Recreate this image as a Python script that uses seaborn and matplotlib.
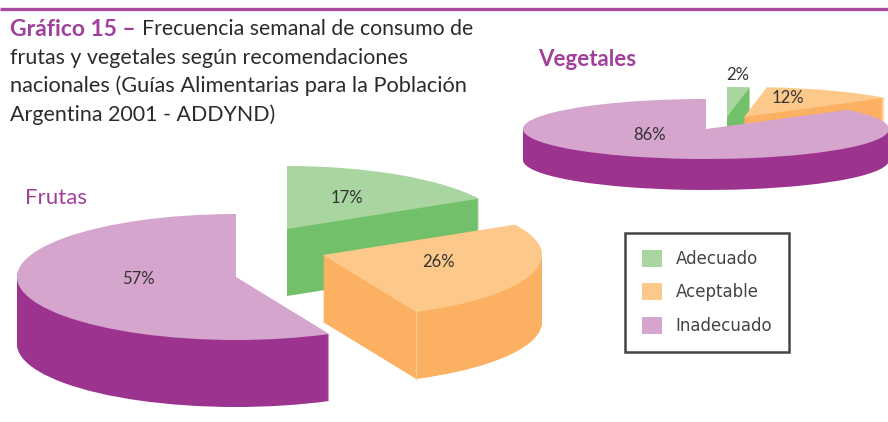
import numpy as np
import matplotlib
matplotlib.use('Agg')
import matplotlib.pyplot as plt
from matplotlib.patches import Patch
import seaborn as sns

# Data
categories = ['Adecuado', 'Aceptable', 'Inadecuado']
frutas = [17, 26, 57]
vegetales = [2, 12, 86]

# Colours: top face and side wall of each slice
top_colors = ['#A9D5A0', '#FCC98B', '#D5A5CD']
wall_colors = ['#72C069', '#FCB062', '#9C338F']
purple = '#A0409A'
W, H = 888, 422

sns.set_theme(style='white')
plt.rcParams['font.family'] = ['Lato', 'DejaVu Sans']

fig = plt.figure(figsize=(W / 100, H / 100), dpi=100)
fig.patch.set_facecolor('white')

# Overlay in pixel coordinates for the text and rule
ax_txt = fig.add_axes([0, 0, 1, 1], zorder=5, facecolor='none')
ax_txt.set_xlim(0, W)
ax_txt.set_ylim(H, 0)
ax_txt.axis('off')


def draw_pie(values, centers, rx, ry, wall):
    # squashed axes turn the round pie into an ellipse
    ratio = ry / rx
    ax = fig.add_axes([0, 0, 1, 1], facecolor='none')
    start = 90.0
    corners = []
    for v, (cx, cy), top, side in zip(values, centers, top_colors, wall_colors):
        vals = [v, 100 - v]
        for h in list(range(wall, 0, -1)) + [0]:
            col = side if h > 0 else top
            ax.pie(vals, colors=[col, 'none'], startangle=start, counterclock=False,
                   radius=rx, center=(cx, (H - cy - h) / ratio),
                   wedgeprops={'linewidth': 0})
        end = np.radians(start - v * 3.6)
        corners.append((cx + rx * np.cos(end), cy - ry * np.sin(end)))
        start -= v * 3.6
    ax.set_aspect('auto')
    ax.set_xlim(0, W)
    ax.set_ylim(0, H / ratio)
    ax.axis('off')
    return ax, corners


ax_f, corners_f = draw_pie(frutas, [(287, 229), (323, 255), (236, 277)], 219, 63, 67)
ax_v, corners_v = draw_pie(vegetales, [(727, 117), (744, 117), (706, 129)], 183, 30, 31)

# thin light edge on the orange wall corner
x_c, y_c = corners_f[1]
ax_txt.plot([x_c, x_c], [y_c, y_c + 67], color='#FCC98B', lw=1)

# Rule and heading
ax_txt.plot([0, W], [9, 9], color='#A84A9E', lw=2.4, solid_capstyle='butt')
ax_txt.text(10, 29, 'Gráfico 15 –', color=purple, fontsize=16.5, fontweight='bold', va='center')
ax_txt.text(142, 29, 'Frecuencia semanal de consumo de', color='#2b2b2b', fontsize=15.3, va='center')
ax_txt.text(10, 58, 'frutas y vegetales según recomendaciones', color='#2b2b2b', fontsize=15.4, va='center')
ax_txt.text(10, 86, 'nacionales (Guías Alimentarias para la Población', color='#2b2b2b', fontsize=15.7, va='center')
ax_txt.text(10, 115, 'Argentina 2001 - ADDYND)', color='#2b2b2b', fontsize=15.4, va='center')

ax_txt.text(25, 198, 'Frutas', color=purple, fontsize=16, va='center')
ax_txt.text(538, 59, 'Vegetales', color=purple, fontsize=16, fontweight='bold', va='center')

# Percent labels
pos_f = [(347, 198), (438, 262), (138, 279)]
pos_v = [(738, 75), (788, 98), (650, 135)]
for vals, pos in [(frutas, pos_f), (vegetales, pos_v)]:
    for v, (x, y) in zip(vals, pos):
        ax_txt.text(x, y, f'{v}%', color='#333333', fontsize=12, ha='center', va='center')

# Legend
handles = [Patch(facecolor=c, edgecolor='none', label=n) for c, n in zip(top_colors, categories)]
leg = ax_txt.legend(handles=handles, loc='upper left', bbox_to_anchor=(625 / W, 1 - 233 / H),
                    fontsize=12, frameon=True, fancybox=False, edgecolor='#444444',
                    framealpha=1, handlelength=1.2, handleheight=1.2, handletextpad=0.85,
                    labelspacing=0.92, borderpad=1.0, borderaxespad=0, labelcolor='#444444')
leg.get_frame().set_linewidth(1.8)
for t in leg.get_texts():
    t.set_family(['DejaVu Sans'])

fig.savefig('out.png', dpi=100)
